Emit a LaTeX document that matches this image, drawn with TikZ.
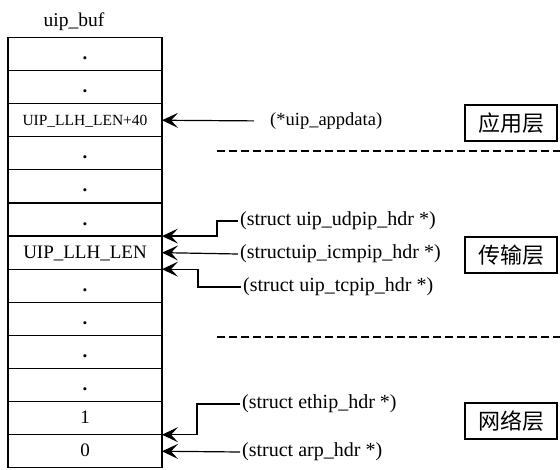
\documentclass[tikz,border=0pt]{standalone}
\usepackage{fontspec}
\setmainfont{Liberation Serif}
\newfontfamily\cjk{Noto Sans CJK SC}
\usetikzlibrary{positioning,arrows.meta}

\begin{document}
\begin{tikzpicture}[x=1pt, y=-1pt,
    cell/.style={draw, line width=1.2pt, minimum width=154pt, minimum height=33.1pt,
        outer sep=0pt, inner sep=0pt, text height=12.5pt, text depth=1.5pt,
        font=\fontsize{19}{22}\selectfont},
    lbl/.style={inner sep=2pt, anchor=west, font=\fontsize{20}{23}\selectfont},
    layerbox/.style={draw, line width=1.2pt, minimum width=92pt, minimum height=36pt,
        font=\cjk\fontsize{22}{26}\selectfont},
    ptr/.style={line width=1.2pt, -{Stealth[length=16pt, width=15pt, inset=7pt]}},
    sepline/.style={line width=1.2pt, dash pattern=on 8pt off 4pt}]
    \useasboundingbox (0,0) rectangle (560,470);

    % Buffer title
    \node[font=\fontsize{19.5}{22}\selectfont] (buf) at (74,22) {uip\_buf};

    % Draw the buffer cells, top to bottom
    \node[cell] (r0) at (85,54.05) {\textbf{.}};
    \node[cell, below=0pt of r0] (r1) {\textbf{.}};
    \node[cell, below=0pt of r1] (r2) {\fontsize{15.5}{18}\selectfont UIP\_LLH\_LEN+40};
    \node[cell, below=0pt of r2] (r3) {\textbf{.}};
    \node[cell, below=0pt of r3] (r4) {\textbf{.}};
    \node[cell, below=0pt of r4] (r5) {\textbf{.}};
    \node[cell, below=0pt of r5] (r6) {UIP\_LLH\_LEN};
    \node[cell, below=0pt of r6] (r7) {\textbf{.}};
    \node[cell, below=0pt of r7] (r8) {\textbf{.}};
    \node[cell, below=0pt of r8] (r9) {\textbf{.}};
    \node[cell, below=0pt of r9] (r10) {\textbf{.}};
    \node[cell, below=0pt of r10] (r11) {1};
    \node[cell, below=0pt of r11] (r12) {0};

    % Pointer labels
    \node[lbl, font=\fontsize{18.5}{22}\selectfont] (appdata) at (268,121) {(*uip\_appdata)};
    \node[lbl] (udp) at (238,221) {(struct uip\_udpip\_hdr *)};
    \node[lbl] (icmp) at (238,254) {(structuip\_icmpip\_hdr *)};
    \node[lbl] (tcp) at (241,287) {(struct uip\_tcpip\_hdr *)};
    \node[lbl] (ethip) at (240,404) {(struct ethip\_hdr *)};
    \node[lbl] (arp) at (240,452) {(struct arp\_hdr *)};

    % Layer boxes
    \node[layerbox] (app) at (511,123) {应用层};
    \node[layerbox] (trans) at (511,255) {传输层};
    \node[layerbox] (net) at (511,421) {网络层};

    % Pointers into the buffer
    \draw[ptr, shorten <=14pt] (appdata.west) -- (r2.east);
    \draw[ptr] (udp.west) -- ++(-21pt,0) |- (r6.north east);
    \draw[ptr] (icmp.west) -- (r6.east);
    \draw[ptr] (tcp.west) -- ++(-43pt,0) |- (r6.south east);
    \draw[ptr] (ethip.west) -- ++(-43pt,0) |- (r11.south east);
    \draw[ptr] (arp.west) -- (r12.east);

    % Dashed separators between layers
    \draw[sepline] (217,151) -- (560,151);
    \draw[sepline] (217,337) -- (560,337);
\end{tikzpicture}
\end{document}
